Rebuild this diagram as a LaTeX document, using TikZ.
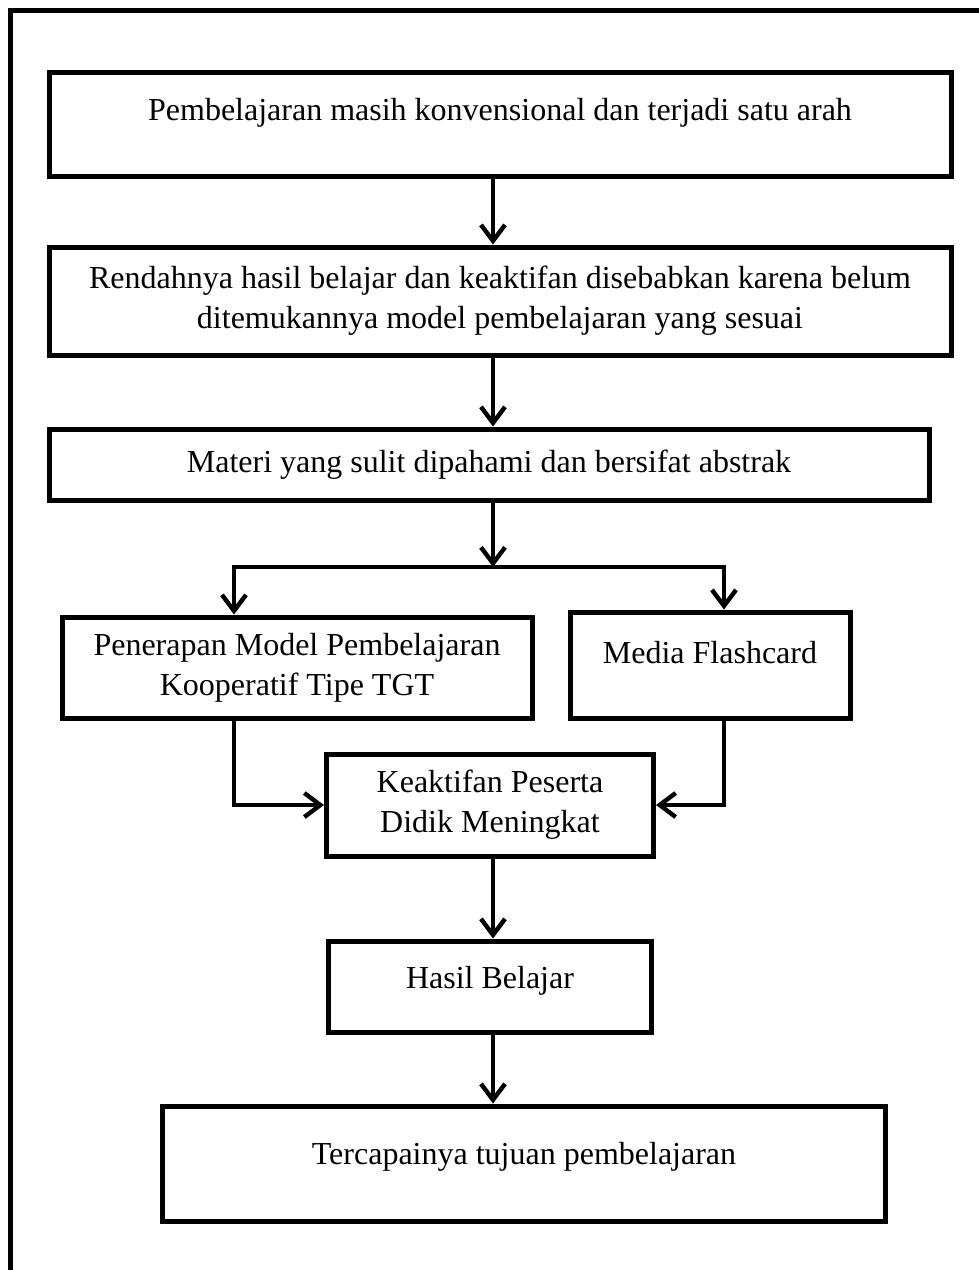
\documentclass[tikz,border=0pt]{standalone}
\usepackage{fontspec}
\setmainfont{Liberation Serif}
\usetikzlibrary{arrows.meta}

\tikzset{
  box/.style={draw, rectangle, line width=2.5pt, align=center, inner sep=2pt,
    font=\fontsize{16pt}{20pt}\selectfont},
  lift/.style={text height=10pt, text depth=#1},
  arr/.style={line width=2.2pt, -{Straight Barb[length=8pt,width=12pt]}},
  frame/.style={line width=2.5pt}
}

\begin{document}
\begin{tikzpicture}[x=0.5pt,y=-0.5pt]
    \useasboundingbox (0,0) rectangle (979,1270);

    % Outer frame (only left and top edges are visible)
    \draw[frame] (10.5,1280) -- (10.5,10.5) -- (990,10.5);

    % Main chain of boxes
    \node[box, lift=13.4pt, minimum width=451pt, minimum height=52pt] (masalah) at (500,124)
        {Pembelajaran masih konvensional dan terjadi satu arah};
    \node[box, minimum width=451pt, minimum height=54pt] (rendah) at (500,301)
        {Rendahnya hasil belajar dan keaktifan disebabkan karena belum\\ditemukannya model pembelajaran yang sesuai};
    \node[box, minimum width=440pt, minimum height=35.5pt] (materi) at (489,464.5)
        {Materi yang sulit dipahami dan bersifat abstrak};

    % Two branches
    \node[box, minimum width=235pt, minimum height=50.5pt] (tgt) at (297,667.5)
        {Penerapan Model Pembelajaran\\Kooperatif Tipe TGT};
    \node[box, lift=11.4pt, minimum width=140pt, minimum height=53pt] (flashcard) at (710,665)
        {Media Flashcard};

    % Results
    \node[box, minimum width=163.5pt, minimum height=51pt] (keaktifan) at (490,805)
        {Keaktifan Peserta\\Didik Meningkat};
    \node[box, lift=8.4pt, minimum width=161.5pt, minimum height=45.5pt] (hasil) at (490,986.5)
        {Hasil Belajar};
    \node[box, lift=9.4pt, minimum width=361.5pt, minimum height=57.5pt] (tujuan) at (524,1163.5)
        {Tercapainya tujuan pembelajaran};

    % Helper coordinates for the connector lines
    \coordinate (axis) at (493,0);
    \coordinate (kiri) at (234,0);
    \coordinate (kanan) at (724,0);
    \coordinate (cabang) at (493,567);

    % Arrows down the main chain
    \draw[arr] (masalah.south -| axis) -- (rendah.north -| axis);
    \draw[arr] (rendah.south -| axis) -- (materi.north -| axis);
    \draw[arr] (materi.south -| axis) -- (cabang);

    % Split into the two branches
    \draw[arr] (cabang) -| (kiri |- tgt.north);
    \draw[arr] (cabang) -| (kanan |- flashcard.north);

    % Branches join into the result box
    \draw[arr] (kiri |- tgt.south) |- (keaktifan.west);
    \draw[arr] (kanan |- flashcard.south) |- (keaktifan.east);

    \draw[arr] (keaktifan.south -| axis) -- (hasil.north -| axis);
    \draw[arr] (hasil.south -| axis) -- (tujuan.north -| axis);
\end{tikzpicture}
\end{document}
